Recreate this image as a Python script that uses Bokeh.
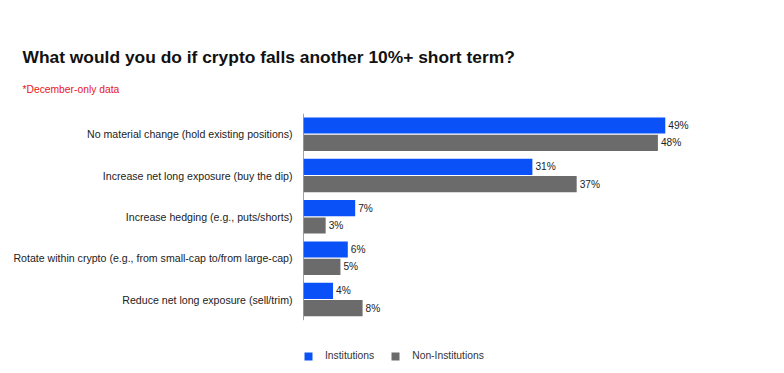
from bokeh.plotting import figure
from bokeh.models import ColumnDataSource, Range1d, FactorRange, Title, Legend, LegendItem
from bokeh.transform import dodge
from bokeh.core.properties import value
from bokeh.embed import file_html
from bokeh.resources import INLINE

categories = [
    "No material change (hold existing positions)",
    "Increase net long exposure (buy the dip)",
    "Increase hedging (e.g., puts/shorts)",
    "Rotate within crypto (e.g., from small-cap to/from large-cap)",
    "Reduce net long exposure (sell/trim)",
]
institutions = [49, 31, 7, 6, 4]
non_institutions = [48, 37, 3, 5, 8]
series_names = ["Institutions", "Non-Institutions"]

BLUE = "#0A52F7"
GRAY = "#6B6B6B"
FONT = "Liberation Sans"

src = ColumnDataSource(dict(
    cat=categories,
    inst=institutions,
    non=non_institutions,
    inst_lbl=[f"{v}%" for v in institutions],
    non_lbl=[f"{v}%" for v in non_institutions],
))

# an empty factor at the bottom leaves room for the legend inside the frame
p = figure(
    frame_width=443, frame_height=248,
    y_range=FactorRange("", *reversed(categories)),
    x_range=Range1d(0, 60),
    output_backend="svg", toolbar_location=None, title=None,
    min_border_left=303, min_border_right=30, min_border_top=113, min_border_bottom=4,
)
p.outline_line_color = None
p.grid.grid_line_color = None
p.xaxis.visible = False

ax = p.yaxis[0]
ax.major_tick_line_color = None
ax.minor_tick_line_color = None
ax.axis_line_color = None
ax.major_label_text_font = FONT
ax.major_label_text_font_size = "10.6px"
ax.major_label_text_color = "#222222"
ax.major_label_standoff = 5

# axis line spanning only the category rows
axsrc = ColumnDataSource(dict(x=[0], lo=[categories[-1]], hi=[categories[0]]))
p.segment(x0="x", x1="x", y0=dodge("lo", -0.5, range=p.y_range),
          y1=dodge("hi", 0.5, range=p.y_range), source=axsrc,
          line_color="#444444", line_width=1)

r1 = p.hbar(y=dodge("cat", 0.21, range=p.y_range), right="inst", left=0, height=0.39,
            source=src, fill_color=BLUE, line_color=None)
r2 = p.hbar(y=dodge("cat", -0.21, range=p.y_range), right="non", left=0, height=0.39,
            source=src, fill_color=GRAY, line_color=None)

for col, lbl, off in (("inst", "inst_lbl", 0.21), ("non", "non_lbl", -0.21)):
    p.text(x=col, y=dodge("cat", off, range=p.y_range), text=lbl, source=src,
           x_offset=3, text_baseline="middle", text_align="left",
           text_font=value(FONT), text_font_size="10.2px", text_color="#222222")

legend = Legend(items=[LegendItem(label=series_names[0], renderers=[r1]),
                       LegendItem(label=series_names[1], renderers=[r2])],
                orientation="horizontal", location=(0, 0),
                glyph_width=10, glyph_height=10, label_standoff=12, spacing=16,
                padding=0, margin=0, border_line_color=None, background_fill_alpha=0,
                label_text_font=FONT, label_text_font_size="10.3px", label_text_color="#333333",
                label_height=10)
p.add_layout(legend)

sub = Title(text="*December-only data", text_font=FONT, text_font_size="10.3px",
            text_font_style="normal", text_color="#E8161B", offset=-281, standoff=34,
            vertical_align="top")
main = Title(text="What would you do if crypto falls another 10%+ short term?",
             text_font=FONT, text_font_size="17.4px", text_font_style="bold",
             text_color="#111111", offset=-281, standoff=0)
p.add_layout(sub, "above")
p.add_layout(main, "above")

open("out.html", "w").write(file_html(p, INLINE))
